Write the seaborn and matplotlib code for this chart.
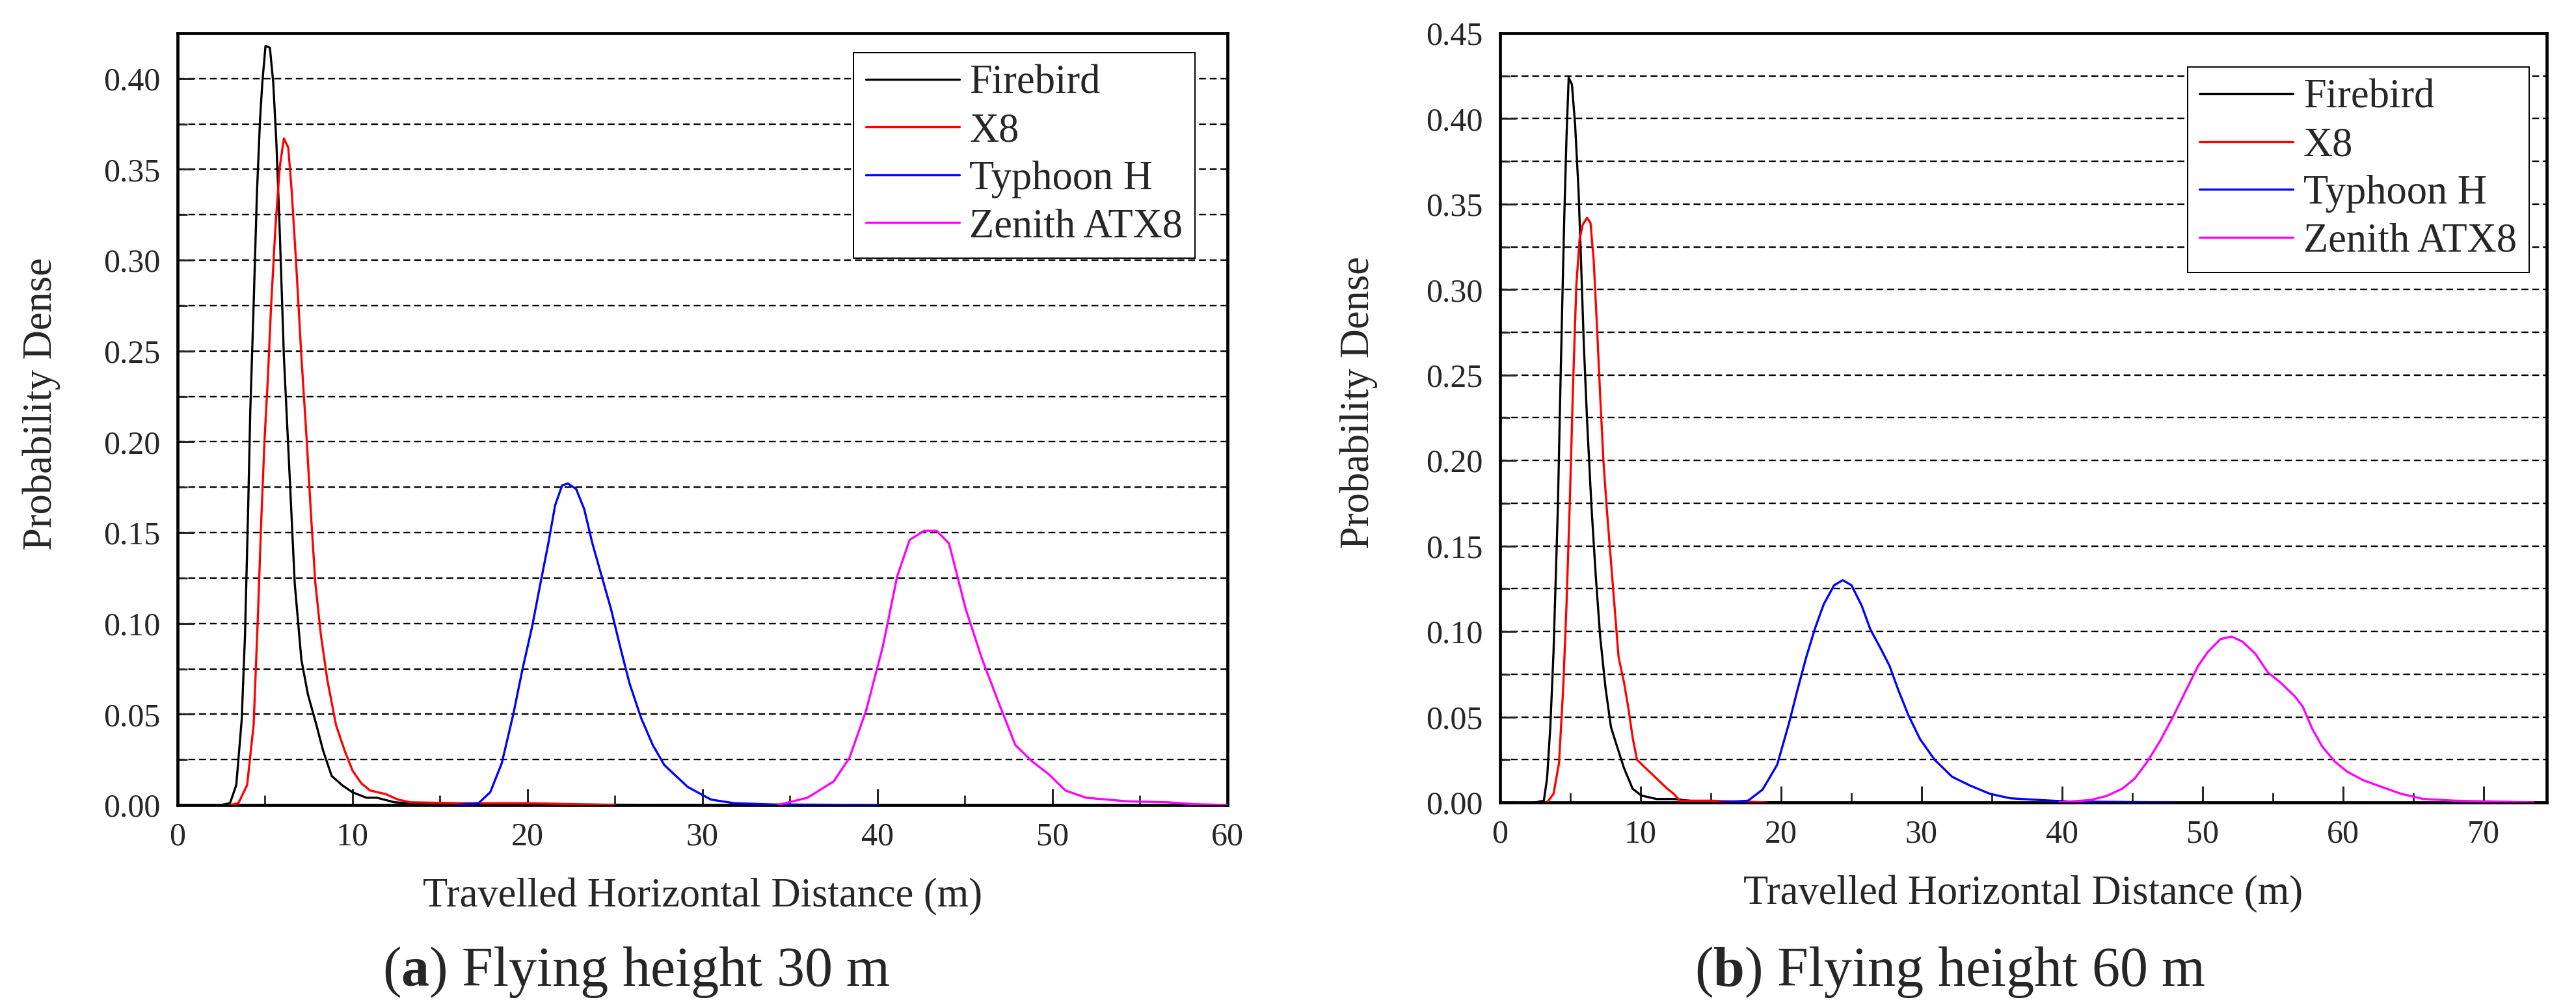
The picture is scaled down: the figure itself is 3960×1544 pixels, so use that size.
import matplotlib
matplotlib.use("Agg")
import matplotlib.pyplot as plt
from matplotlib.ticker import MultipleLocator
import numpy as np
import pandas as pd
import seaborn as sns

# ---- data (travelled distance in m, probability density) ----
labels = ["Firebird", "X8", "Typhoon H", "Zenith ATX8"]
colors = ["#000000", "#ff0000", "#0000ff", "#ff00ff"]

# (a) flying height 30 m
fb30_x = [2.5, 3.0, 3.36, 3.67, 3.86, 4.04, 4.16, 4.35, 4.54, 4.72, 4.85, 5.03, 5.28, 5.47, 5.65, 5.84,
          6.08, 6.40, 6.70, 7.08, 7.45, 7.94, 8.32, 8.81, 9.4, 10.0, 10.8, 11.4, 12.4, 14.0, 20.0, 30.0]
fb30_y = [0, 0.001, 0.011, 0.047, 0.094, 0.164, 0.217, 0.275, 0.337, 0.378, 0.398, 0.418, 0.417, 0.398, 0.365, 0.317,
          0.247, 0.183, 0.122, 0.080, 0.061, 0.044, 0.030, 0.016, 0.011, 0.007, 0.004, 0.004, 0.0015, 0.0005, 0.0003, 0]
x830_x = [3.0, 3.48, 3.98, 4.35, 4.60, 4.78, 4.97, 5.16, 5.34, 5.59, 5.84, 6.08, 6.33, 6.52, 6.77, 7.08,
          7.39, 7.64, 7.88, 8.19, 8.56, 9.06, 9.55, 10.0, 10.5, 11.0, 11.9, 12.6, 13.3, 16.0, 20.0, 25.0]
x830_y = [0, 0.001, 0.011, 0.044, 0.105, 0.155, 0.200, 0.234, 0.273, 0.317, 0.351, 0.367, 0.362, 0.339, 0.300, 0.247,
          0.200, 0.158, 0.122, 0.094, 0.069, 0.044, 0.030, 0.019, 0.012, 0.008, 0.006, 0.003, 0.0015, 0.001, 0.001, 0]
ty30_x = [15.9, 17.2, 17.87, 18.53, 19.19, 19.72, 20.26, 20.78, 21.19, 21.58, 21.98, 22.31, 22.78, 23.24,
          23.71, 24.24, 24.77, 25.30, 25.83, 26.49, 27.16, 27.82, 29.15, 30.48, 31.81, 34.0, 40.0]
ty30_y = [0, 0.001, 0.007, 0.023, 0.050, 0.075, 0.098, 0.124, 0.144, 0.165, 0.176, 0.177, 0.174, 0.163,
          0.144, 0.126, 0.108, 0.087, 0.067, 0.048, 0.033, 0.022, 0.010, 0.003, 0.001, 0.0003, 0]
ze30_x = [34.3, 36.0, 37.5, 38.4, 39.35, 40.3, 41.13, 41.84, 42.67, 43.38, 44.09, 45.04, 45.99, 46.94,
          47.88, 48.84, 49.78, 50.74, 51.92, 54.3, 56.6, 58.0, 60.0]
ze30_y = [0, 0.004, 0.013, 0.026, 0.052, 0.087, 0.126, 0.146, 0.151, 0.151, 0.144, 0.108, 0.080, 0.056,
          0.033, 0.024, 0.017, 0.008, 0.004, 0.002, 0.0015, 0.0005, 0]

# (b) flying height 60 m
fb60_x = [2.5, 3.12, 3.35, 3.58, 3.81, 3.97, 4.12, 4.27, 4.43, 4.58, 4.74, 4.89, 5.12, 5.35, 5.59, 5.74,
          5.97, 6.20, 6.51, 6.82, 7.13, 7.51, 7.90, 8.36, 8.83, 9.44, 10.06, 11.14, 12.4, 14.0, 20.0]
fb60_y = [0, 0.001, 0.014, 0.044, 0.088, 0.132, 0.173, 0.232, 0.291, 0.344, 0.391, 0.424, 0.420, 0.396, 0.358, 0.323,
          0.267, 0.223, 0.173, 0.132, 0.097, 0.067, 0.044, 0.032, 0.020, 0.008, 0.004, 0.002, 0.002, 0.0005, 0]
x860_x = [3.35, 3.81, 4.2, 4.5, 4.74, 4.97, 5.2, 5.43, 5.66, 5.89, 6.20, 6.44, 6.67, 6.90, 7.13, 7.36,
          7.59, 7.82, 8.13, 8.44, 8.83, 9.14, 9.44, 9.75, 10.37, 11.14, 11.91, 12.37, 12.8, 15.0, 19.0]
x860_y = [0, 0.005, 0.023, 0.067, 0.117, 0.176, 0.244, 0.302, 0.329, 0.338, 0.342, 0.339, 0.317, 0.279, 0.238, 0.200,
          0.173, 0.149, 0.117, 0.085, 0.070, 0.055, 0.038, 0.025, 0.020, 0.014, 0.008, 0.005, 0.001, 0.001, 0]
ty60_x = [15.6, 17.66, 18.69, 19.73, 20.56, 21.18, 21.80, 22.43, 23.05, 23.78, 24.40, 25.02, 25.75, 26.37,
          27.10, 27.72, 28.34, 29.07, 29.90, 30.93, 32.18, 33.42, 34.88, 36.33, 38.40, 40.48, 48.0]
ty60_y = [0, 0.001, 0.0075, 0.022, 0.046, 0.066, 0.085, 0.102, 0.116, 0.127, 0.130, 0.127, 0.115, 0.101,
          0.090, 0.080, 0.066, 0.051, 0.037, 0.025, 0.015, 0.010, 0.005, 0.0024, 0.0014, 0.0005, 0]
ze60_x = [39.8, 42.03, 43.16, 44.29, 45.19, 46.09, 46.99, 47.90, 48.80, 49.70, 50.38, 51.28, 52.07, 52.86, 53.76,
          54.66, 55.57, 56.58, 57.14, 57.82, 58.50, 59.40, 60.30, 61.43, 62.78, 64.14, 65.72, 67.97, 70.2, 73.6]
ze60_y = [0, 0.0014, 0.0037, 0.008, 0.014, 0.024, 0.036, 0.050, 0.065, 0.080, 0.088, 0.0955, 0.097, 0.094, 0.087,
          0.076, 0.070, 0.062, 0.056, 0.043, 0.033, 0.024, 0.018, 0.013, 0.009, 0.005, 0.002, 0.001, 0.0006, 0]

captions = [r"($\mathbf{a}$) Flying height 30 m", r"($\mathbf{b}$) Flying height 60 m"]
x_label = "Travelled Horizontal Distance (m)"
y_label = "Probability Dense"


def long_frame(series):
    rows = []
    for name, xs, ys in series:
        for x, y in zip(xs, ys):
            rows.append({"x": x, "density": y, "drone": name})
    return pd.DataFrame(rows)


df30 = long_frame([(labels[0], fb30_x, fb30_y), (labels[1], x830_x, x830_y),
                   (labels[2], ty30_x, ty30_y), (labels[3], ze30_x, ze30_y)])
df60 = long_frame([(labels[0], fb60_x, fb60_y), (labels[1], x860_x, x860_y),
                   (labels[2], ty60_x, ty60_y), (labels[3], ze60_x, ze60_y)])

sns.set_style("ticks")
plt.rcParams["font.family"] = ["Liberation Serif", "DejaVu Serif"]
plt.rcParams["mathtext.fontset"] = "custom"
plt.rcParams["mathtext.rm"] = "Liberation Serif"
plt.rcParams["mathtext.bf"] = "Liberation Serif:bold"

fig = plt.figure(figsize=(39.6, 15.44), dpi=100)
fig.patch.set_facecolor("white")

panels = [
    dict(df=df30, rect=[0.0689, 0.1982, 0.4076, 0.7688], xlim=(0, 60), ylim=(0, 0.425),
         leg_anchor=(0.969, 0.975), ylab_x=-0.1115, cap_x=978 / 3960),
    dict(df=df60, rect=[0.5823, 0.2008, 0.4063, 0.7662], xlim=(0, 74.5), ylim=(0, 0.45),
         leg_anchor=(0.983, 0.956), ylab_x=-0.117, cap_x=2998 / 3960),
]

for p, cap in zip(panels, captions):
    ax = fig.add_axes(p["rect"])
    sns.lineplot(data=p["df"], x="x", y="density", hue="drone", hue_order=labels,
                 palette=colors, sort=False, estimator=None, linewidth=2.4, ax=ax, zorder=3)
    ax.set_xlim(*p["xlim"])
    ax.set_ylim(*p["ylim"])
    ax.xaxis.set_major_locator(MultipleLocator(10))
    ax.xaxis.set_minor_locator(MultipleLocator(5))
    ax.yaxis.set_major_locator(MultipleLocator(0.05))
    ax.yaxis.set_minor_locator(MultipleLocator(0.025))
    ax.yaxis.set_major_formatter(plt.FormatStrFormatter("%.2f"))

    ax.grid(axis="y", which="both", color="black", linestyle=(0, (4.5, 2.5)), linewidth=1.7, zorder=1)
    ax.set_axisbelow(True)
    for s in ax.spines.values():
        s.set_linewidth(3.4)
        s.set_color("black")
    ax.tick_params(which="major", direction="in", length=18, width=2.2, labelsize=36, pad=19,
                   top=False, right=False)
    ax.tick_params(which="minor", direction="in", length=11, width=2.0, top=False, right=False)

    ax.set_xlabel(x_label, fontsize=45)
    ax.set_ylabel(y_label, fontsize=45)
    ax.xaxis.set_label_coords(0.5, -0.095)
    ax.yaxis.set_label_coords(p["ylab_x"], 0.52)

    handles, _ = ax.get_legend_handles_labels()
    leg = ax.legend(handles=handles, labels=labels, loc="upper right", bbox_to_anchor=p["leg_anchor"],
                    borderaxespad=0, fontsize=45, frameon=True, fancybox=False, framealpha=1,
                    edgecolor="black", handlelength=2.3, handletextpad=0.25, labelspacing=0.25,
                    borderpad=0.3)
    leg.get_frame().set_linewidth(1.4)
    leg.set_zorder(5)
    for line in leg.get_lines():
        line.set_linewidth(2.4)

    fig.text(p["cap_x"], 0.032, cap, ha="center", va="center", fontsize=62)

fig.savefig("out.png", dpi=100, facecolor="white")
